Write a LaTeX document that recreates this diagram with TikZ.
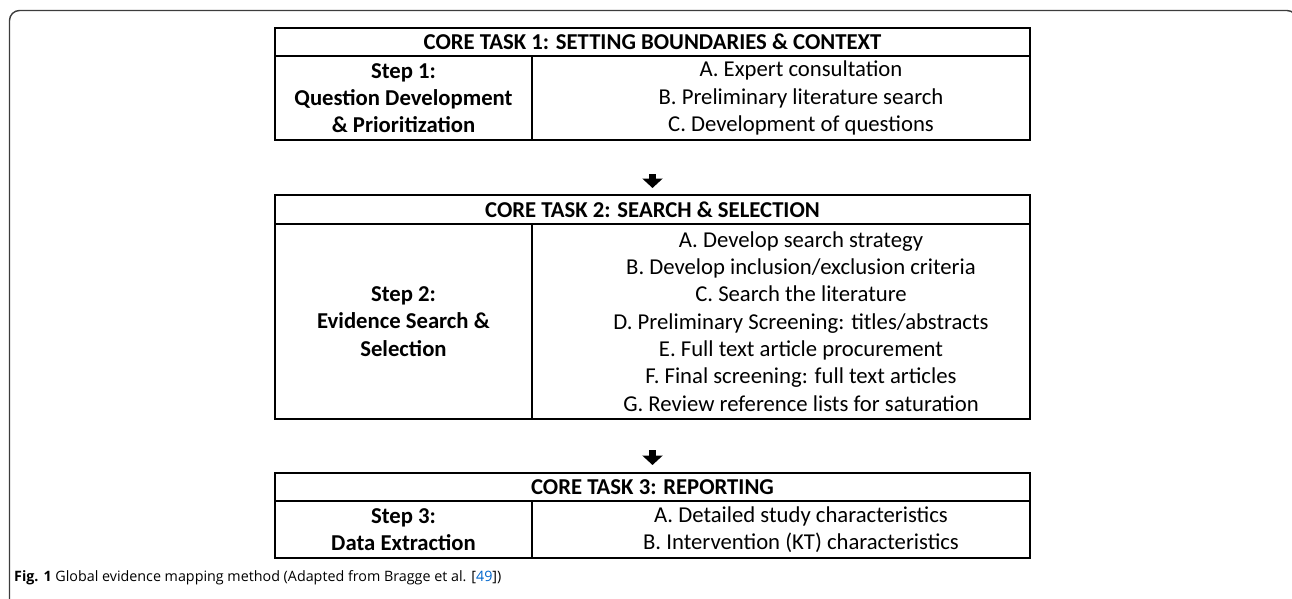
\documentclass[tikz,border=0pt]{standalone}
\usepackage{fontspec}
\setmainfont{Carlito}
\newfontfamily\capfont{Open Sans}
\usetikzlibrary{arrows.meta}
\definecolor{linkblue}{RGB}{0,102,204}
\definecolor{framegray}{RGB}{60,60,60}
\begin{document}
\begin{tikzpicture}[x=1pt,y=-1pt,
  cell/.style={draw=black, line width=2pt, inner sep=0pt, anchor=north west},
  hdr/.style={cell, minimum width=755pt, minimum height=28pt,
    font=\fontsize{22.7}{27.3}\selectfont\bfseries},
  stepcell/.style={cell, minimum width=257pt, align=center,
    font=\fontsize{22.7}{27.3}\selectfont\bfseries},
  itemcell/.style={cell, minimum width=498pt},
  items/.style={align=center, inner sep=0pt, font=\fontsize{22.7}{27.3}\selectfont},
  bigarrow/.style={line width=7.5pt, -{Triangle[width=20pt,length=9.5pt]}}]
\useasboundingbox (0,0) rectangle (1292,599);
\clip (0,0) rectangle (1292,599);

% outer figure frame
\draw[framegray, line width=1.4pt, rounded corners=10pt]
  (9.5,650) -- (9.5,10.5) -- (1297,10.5) -- (1297,650);

% core task 1
\node[hdr] (t1h) at (274,27) {CORE TASK 1: SETTING BOUNDARIES \& CONTEXT};
\node[stepcell, minimum height=84pt] (t1l) at (274,55)
  {Step 1:\\Question Development\\\& Prioritization};
\node[itemcell, minimum height=84pt] (t1r) at (531,55) {};
\node[items] (t1i) at ([xshift=20pt]t1r.center)
  {A. Expert consultation\\B. Preliminary literature search\\C. Development of questions};

% core task 2
\node[hdr, minimum height=29pt] (t2h) at (274,194) {CORE TASK 2: SEARCH \& SELECTION};
\node[stepcell, minimum height=195pt] (t2l) at (274,223)
  {Step 2:\\Evidence Search \&\\Selection};
\node[itemcell, minimum height=195pt] (t2r) at (531,223) {};
\node[items] (t2i) at ([xshift=20pt]t2r.center)
  {A. Develop search strategy\\B. Develop inclusion/exclusion criteria\\C. Search the literature\\
   D. Preliminary Screening: titles/abstracts\\E. Full text article procurement\\
   F. Final screening: full text articles\\G. Review reference lists for saturation};

% core task 3
\node[hdr] (t3h) at (274,472) {CORE TASK 3: REPORTING};
\node[stepcell, minimum height=57pt] (t3l) at (274,500)
  {Step 3:\\Data Extraction};
\node[itemcell, minimum height=57pt] (t3r) at (531,500) {};
\node[items] (t3i) at ([xshift=20pt]t3r.center)
  {A. Detailed study characteristics\\B. Intervention (KT) characteristics};

% flow between the core tasks
\draw[bigarrow, shorten <=33pt, shorten >=6pt] (t1h.center |- t1l.south) -- (t2h.north);
\draw[bigarrow, shorten <=30pt, shorten >=7pt] (t2h.center |- t2l.south) -- (t3h.north);

% caption
\node[anchor=base west, inner sep=0pt, font=\capfont\fontsize{14.3}{17}\selectfont] (cap) at (14,581)
  {\textbf{Fig. 1} Global evidence mapping method (Adapted from Bragge et al. [\textcolor{linkblue}{49}])};
\end{tikzpicture}
\end{document}
